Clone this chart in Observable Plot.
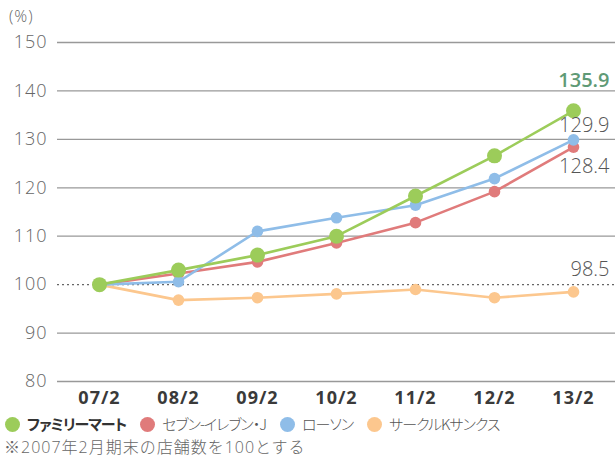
<!DOCTYPE html>
<html><head><meta charset="utf-8">
<script src="https://cdn.jsdelivr.net/npm/d3@7"></script>
<script src="https://cdn.jsdelivr.net/npm/@observablehq/plot@0.6"></script>
<style>
body{margin:0;background:#fff;font-family:"Open Sans","Noto Sans CJK JP",sans-serif;}
#wrap{position:relative;width:615px;height:459px;overflow:hidden;}
#unit{position:absolute;left:9px;top:5px;font-size:16px;color:#666;font-weight:300;letter-spacing:1px;}
#legend{position:absolute;left:5px;top:414px;font-size:15px;line-height:20px;color:#555;display:flex;align-items:center;white-space:nowrap;font-feature-settings:"palt";font-family:"Noto Sans CJK JP",sans-serif;font-weight:300;letter-spacing:-1px;}
#legend span.it{display:flex;align-items:center;margin-right:14px;}
#legend i{display:inline-block;width:15px;height:15px;border-radius:50%;margin-right:7px;}
#note{position:absolute;left:4px;top:436px;font-size:16px;line-height:22px;color:#666;white-space:nowrap;font-weight:300;letter-spacing:1px;}
</style></head><body>
<div id="wrap">
<div id="chart"></div>
<div id="unit">(%)</div>
<div id="legend"></div>
<div id="note">※2007年2月期末の店舗数を100とする</div>
</div>
<script>
const periods = ["07/2","08/2","09/2","10/2","11/2","12/2","13/2"];
const seriesNames = ["ファミリーマート","セブン-イレブン・J","ローソン","サークルKサンクス"];
const familymart = [100, 103.0, 106.1, 110.0, 118.3, 126.6, 135.9];
const seven = [100, 102.3, 104.7, 108.6, 112.8, 119.2, 128.4];
const lawson = [100, 100.6, 111.0, 113.8, 116.4, 121.9, 129.9];
const circlek = [100, 96.8, 97.3, 98.1, 99.0, 97.3, 98.5];
const yTicks = [80, 90, 100, 110, 120, 130, 140, 150];
const colors = ["#9ccc5a", "#e07b7b", "#8fbde8", "#fcc78e"];

const seriesValues = [familymart, seven, lawson, circlek];
const rows = [];
seriesValues.forEach((vals, si) => vals.forEach((v, i) => rows.push({series: seriesNames[si], period: periods[i], value: v})));
const drawOrder = [3, 1, 2, 0];

const endLabels = [
  {series: seriesNames[0], period: periods[6], value: familymart[6], dy: -30, fill: "#5f9a76", weight: 600},
  {series: seriesNames[2], period: periods[6], value: lawson[6], dy: -14, fill: "#555", weight: 300},
  {series: seriesNames[1], period: periods[6], value: seven[6], dy: 19, fill: "#555", weight: 300},
  {series: seriesNames[3], period: periods[6], value: circlek[6], dy: -22, fill: "#555", weight: 300}
];

const marks = [
  Plot.ruleY(yTicks.filter(d => d !== 100), {stroke: "#999", strokeWidth: 1.3}),
  Plot.ruleY([100], {stroke: "#666", strokeWidth: 1.3, strokeDasharray: "2,3"})
];
for (const si of drawOrder) {
  const data = rows.filter(r => r.series === seriesNames[si]);
  marks.push(Plot.line(data, {x: "period", y: "value", stroke: colors[si], strokeWidth: 2.6}));
  marks.push(Plot.dot(data, {x: "period", y: "value", fill: colors[si], r: si === 0 ? 7.5 : 5.8}));
}
for (const l of endLabels) {
  marks.push(Plot.text([l], {x: "period", y: "value", text: d => d.value.toFixed(1), dx: 36, dy: l.dy, textAnchor: "end", fill: l.fill, fontSize: 20, fontWeight: l.weight, fontFamily: "Open Sans", style: "letter-spacing:0.5px"}));
}

const chart = Plot.plot({
  width: 615, height: 410,
  marginLeft: 57, marginRight: 0, marginTop: 42, marginBottom: 29,
  style: {fontFamily: "'Open Sans','Noto Sans CJK JP',sans-serif", background: "#fff"},
  x: {type: "point", domain: periods, padding: 0.5, label: null},
  y: {domain: [80, 150], label: null},
  marks: [
    ...marks,
    Plot.axisX({tickSize: 0, tickPadding: 10, fontSize: 18, fontWeight: 700, fill: "#3a3a3a", label: null}),
    Plot.axisY({ticks: yTicks, tickSize: 0, tickPadding: 10, fontSize: 18, fontWeight: 300, fill: "#666", label: null})
  ]
});
chart.querySelectorAll("[aria-label='x-axis tick label'] text").forEach(t => t.setAttribute("letter-spacing", "1"));
chart.querySelectorAll("[aria-label='y-axis tick label'] text").forEach(t => t.setAttribute("letter-spacing", "1"));
document.getElementById("chart").appendChild(chart);

const lg = document.getElementById("legend");
seriesNames.forEach((n, i) => {
  const s = document.createElement("span");
  s.className = "it";
  s.innerHTML = `<i style="background:${colors[i]}"></i><span style="${i===0?'font-weight:700;color:#333':''}">${n}</span>`;
  lg.appendChild(s);
});
</script>
</body></html>
